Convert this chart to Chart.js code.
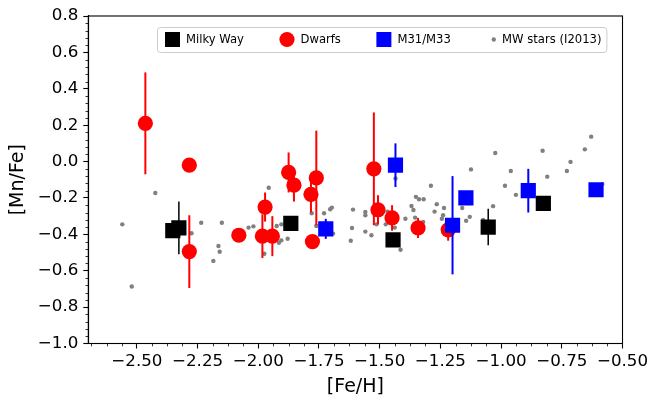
<!DOCTYPE html>
<html>
<head>
<meta charset="utf-8">
<script src="https://cdn.jsdelivr.net/npm/chart.js@4.4.1/dist/chart.umd.min.js"></script>
<style>
  html, body { margin: 0; padding: 0; background: #fff; }
  #wrap { width: 648px; height: 397px; position: relative; }
</style>
</head>
<body>
<div id="wrap"><canvas id="ch-mnfe"></canvas></div>
<script>
// axis ticks
const X_TICKS = [-2.5, -2.25, -2.0, -1.75, -1.5, -1.25, -1.0, -0.75, -0.5];
const Y_TICKS = [-1.0, -0.8, -0.6, -0.4, -0.2, 0.0, 0.2, 0.4, 0.6, 0.8];

// Milky Way globulars (black squares)
const mwFeH  = [-2.352, -2.327, -1.866, -1.445, -1.053, -0.826];
const mwMnFe = [-0.38, -0.365, -0.34, -0.43, -0.36, -0.23];
const mwErr  = [null, 0.145, null, null, 0.10, null];

// Dwarfs (red circles)
const dwFeH  = [-2.465, -2.284, -2.284, -2.080, -1.972, -1.983, -1.942, -1.875, -1.853,
                -1.761, -1.783, -1.777, -1.524, -1.507, -1.449, -1.342, -1.218];
const dwMnFe = [0.21, -0.02, -0.495, -0.405, -0.25, -0.41, -0.41, -0.06, -0.13,
                -0.09, -0.18, -0.44, -0.04, -0.265, -0.31, -0.365, -0.375];
const dwErr  = [0.28, null, 0.20, null, 0.08, 0.12, 0.11, 0.11, 0.09,
                0.26, 0.10, null, 0.31, 0.08, 0.07, 0.055, 0.06];

// M31/M33 (blue squares)
const m31FeH  = [-1.722, -1.435, -1.200, -1.145, -0.888, -0.609];
const m31MnFe = [-0.37, -0.02, -0.35, -0.20, -0.16, -0.155];
const m31Err  = [0.055, 0.12, 0.27, null, 0.12, null];

// MW field stars (grey dots)
const starFeH = [-2.560, -2.521, -2.424, -2.275, -2.235, -2.185, -2.164, -2.159, -2.150,
                 -2.040, -2.020, -1.975, -1.957, -1.924, -1.915, -1.905, -1.905, -1.879,
                 -1.780, -1.761, -1.729, -1.704, -1.697, -1.692, -1.619, -1.614, -1.610,
                 -1.559, -1.559, -1.559, -1.534, -1.513, -1.475, -1.468, -1.438, -1.435,
                 -1.414, -1.394, -1.369, -1.361, -1.354, -1.351, -1.338, -1.321, -1.319,
                 -1.289, -1.274, -1.265, -1.244, -1.239, -1.235, -1.160, -1.144, -1.129,
                 -1.124, -1.074, -1.033, -1.024, -0.984, -0.960, -0.939, -0.829, -0.810,
                 -0.729, -0.714, -0.655, -0.629, -0.583];
const starMnFe = [-0.345, -0.687, -0.173, -0.394, -0.336, -0.546, -0.464, -0.496, -0.336,
                  -0.363, -0.356, -0.507, -0.144, -0.354, -0.446, -0.345, -0.433, -0.424,
                  -0.284, -0.354, -0.284, -0.262, -0.253, -0.396, -0.435, -0.365, -0.264,
                  -0.277, -0.295, -0.385, -0.405, -0.345, -0.345, -0.275, -0.363, -0.093,
                  -0.485, -0.314, -0.244, -0.266, -0.308, -0.194, -0.207, -0.332, -0.207,
                  -0.133, -0.275, -0.234, -0.314, -0.295, -0.255, -0.255, -0.325, -0.304,
                  -0.043, -0.321, -0.245, 0.047, -0.133, -0.052, -0.183, 0.059, -0.083,
                  -0.052, -0.002, 0.067, 0.137, -0.124];

const pts = (xs, ys) => xs.map((x, i) => ({ x: x, y: ys[i] }));
const fmtNum = (v, d) => {
  const s = Math.abs(v).toFixed(d);
  return (v < 0 && Number(s) !== 0 ? "\u2212" : "") + s;
};

const FONT = "'DejaVu Sans', sans-serif";
Chart.defaults.font.family = FONT;
Chart.defaults.color = "#000";

// error bars, drawn under each dataset's own markers
const errorBarPlugin = {
  id: "errorBars",
  beforeDatasetDraw(chart, args) {
    const ds = chart.data.datasets[args.index];
    if (!ds.errors) return;
    const { ctx, scales: { x, y } } = chart;
    ctx.save();
    ctx.strokeStyle = ds.errColor;
    ctx.lineWidth = ds.errWidth;
    ds.data.forEach((p, i) => {
      const e = ds.errors[i];
      if (!e) return;
      const px = x.getPixelForValue(p.x);
      ctx.beginPath();
      ctx.moveTo(px, y.getPixelForValue(p.y - e));
      ctx.lineTo(px, y.getPixelForValue(p.y + e));
      ctx.stroke();
    });
    ctx.restore();
  }
};

// full box frame + minor ticks + legend inside plot
const framePlugin = {
  id: "frame",
  afterDraw(chart) {
    const { ctx, chartArea: a, scales: { x, y } } = chart;
    ctx.save();
    ctx.strokeStyle = "#000";
    ctx.lineWidth = 1.1;
    ctx.strokeRect(a.left, a.top, a.right - a.left, a.bottom - a.top);

    // minor ticks
    ctx.lineWidth = 0.8;
    ctx.beginPath();
    for (let k = Math.ceil(x.min / 0.0625); k * 0.0625 <= x.max + 1e-9; k++) {
      if (k % 4 === 0) continue;
      const px = Math.round(x.getPixelForValue(k * 0.0625)) + 0.5;
      ctx.moveTo(px, a.bottom);
      ctx.lineTo(px, a.bottom + 2.8);
    }
    for (let k = Math.ceil(y.min / 0.04 - 1e-9); k * 0.04 <= y.max + 1e-9; k++) {
      if (k % 5 === 0) continue;
      const py = Math.round(y.getPixelForValue(k * 0.04)) + 0.5;
      ctx.moveTo(a.left, py);
      ctx.lineTo(a.left - 2.8, py);
    }
    ctx.stroke();

    // legend
    ctx.font = "11.6px " + FONT;
    ctx.textBaseline = "middle";
    const cy = 39.5;
    let cx = 172.5;
    const items = [];
    chart.data.datasets.forEach(ds => {
      const w = ctx.measureText(ds.label).width;
      const tOff = ds.pointRadius < 4 ? 8.3 : 13.5;
      items.push({ ds, cx, tx: cx + tOff, w });
      cx = cx + tOff + w + 43;
    });
    const last = items[items.length - 1];
    const bx = 157, by = 27, bw = last.tx + last.w + 5 - bx, bh = 25;
    ctx.fillStyle = "rgba(255,255,255,0.8)";
    ctx.strokeStyle = "#cccccc";
    ctx.lineWidth = 1;
    ctx.beginPath();
    ctx.roundRect(bx + 0.5, by + 0.5, bw, bh, 3);
    ctx.fill();
    ctx.stroke();
    items.forEach(it => {
      const ds = it.ds;
      ctx.fillStyle = ds.pointBackgroundColor;
      ctx.beginPath();
      if (ds.pointStyle === "rect") {
        ctx.rect(it.cx - 7.5, cy - 7.5, 15, 15);
      } else {
        ctx.arc(it.cx, cy, ds.pointRadius, 0, Math.PI * 2);
      }
      ctx.fill();
      ctx.fillStyle = "#000";
      ctx.fillText(ds.label, it.tx, cy);
    });
    ctx.restore();
  }
};

new Chart(document.getElementById("ch-mnfe"), {
  type: "scatter",
  data: {
    datasets: [
      {
        label: "Milky Way",
        data: pts(mwFeH, mwMnFe),
        errors: mwErr, errColor: "#000", errWidth: 1.5,
        pointStyle: "rect", pointRadius: 10.75,
        pointBackgroundColor: "#000000", pointBorderWidth: 0,
        order: 2
      },
      {
        label: "Dwarfs",
        data: pts(dwFeH, dwMnFe),
        errors: dwErr, errColor: "#ff0000", errWidth: 2,
        pointStyle: "circle", pointRadius: 7.6,
        pointBackgroundColor: "#ff0000", pointBorderWidth: 0,
        order: 1
      },
      {
        label: "M31/M33",
        data: pts(m31FeH, m31MnFe),
        errors: m31Err, errColor: "#0000ff", errWidth: 2,
        pointStyle: "rect", pointRadius: 10.75,
        pointBackgroundColor: "#0000ff", pointBorderWidth: 0,
        order: 0
      },
      {
        label: "MW stars (I2013)",
        data: pts(starFeH, starMnFe),
        pointStyle: "circle", pointRadius: 2.2,
        pointBackgroundColor: "#808080", pointBorderWidth: 0,
        order: 3
      }
    ]
  },
  options: {
    responsive: true,
    maintainAspectRatio: false,
    animation: false,
    events: [],
    layout: { padding: { top: 16, right: 25.5, left: 0, bottom: 0 } },
    plugins: { legend: { display: false }, tooltip: { enabled: false } },
    scales: {
      x: {
        type: "linear",
        min: -2.70,
        max: -0.50,
        afterFit: s => { s.height = 53.5; s.paddingLeft = 0; s.paddingRight = 0; },
        afterBuildTicks: s => { s.ticks = X_TICKS.map(v => ({ value: v })); },
        ticks: {
          color: "#000",
          font: { size: 16.7 },
          padding: 3,
          maxRotation: 0,
          autoSkip: false,
          callback: v => fmtNum(v, 2)
        },
        grid: { drawOnChartArea: false, drawTicks: true, tickLength: 5, tickColor: "#000", tickWidth: 1.1 },
        border: { display: true, color: "#000", width: 1.1 },
        title: { display: true, text: "[Fe/H]", color: "#000", font: { size: 19, lineHeight: 1 }, padding: { top: 0, bottom: 0 } }
      },
      y: {
        type: "linear",
        min: -1.0,
        max: 0.8,
        afterFit: s => { s.width = 88.3; s.paddingTop = 0; s.paddingBottom = 0; },
        afterBuildTicks: s => { s.ticks = Y_TICKS.map(v => ({ value: v })); },
        ticks: {
          color: "#000",
          font: { size: 16.7 },
          padding: 5,
          autoSkip: false,
          callback: v => fmtNum(v, 1)
        },
        grid: { drawOnChartArea: false, drawTicks: true, tickLength: 5, tickColor: "#000", tickWidth: 1.1 },
        border: { display: true, color: "#000", width: 1.1 },
        title: { display: true, text: "[Mn/Fe]", color: "#000", font: { size: 19, lineHeight: 1 }, padding: { top: 8.5, bottom: 0 } }
      }
    }
  },
  plugins: [errorBarPlugin, framePlugin]
});
</script>
</body>
</html>
